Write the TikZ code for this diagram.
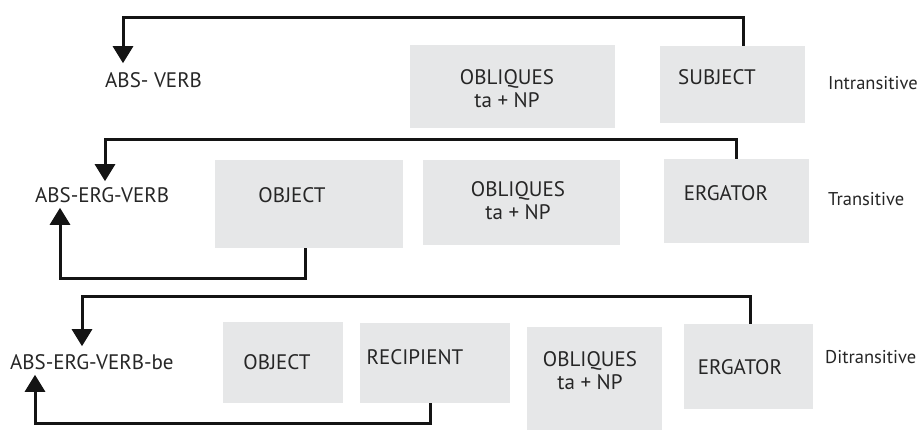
\documentclass[tikz,border=0pt]{standalone}
\usepackage{fontspec}
\setmainfont{PT Sans}
\usetikzlibrary{arrows.meta}
\definecolor{boxgray}{HTML}{E6E7E8}
\definecolor{inkc}{HTML}{141414}
\definecolor{txtc}{HTML}{262626}
\begin{document}
\begin{tikzpicture}[x=1pt,y=-1pt,
  box/.style={fill=boxgray,draw=none,inner sep=0pt},
  lab/.style={text=txtc,font=\fontsize{21}{23}\selectfont,inner sep=0pt,align=center},
  verb/.style={text=txtc,font=\fontsize{21}{22}\selectfont,inner sep=0pt,anchor=west},
  side/.style={text=txtc,font=\fontsize{18.5}{20}\selectfont,inner sep=0pt,anchor=west},
  arr/.style={draw=inkc,line width=3pt,-{Triangle[width=20pt,length=17pt]}}]
\useasboundingbox (0,0) rectangle (920,430);
% row 1
\node[box,minimum width=205pt,minimum height=83pt] (obl1) at (512.5,86.5) {};
\node[box,minimum width=145pt,minimum height=77pt] (subj) at (732.5,84.5) {};
\node[lab] (obl1t) at (507,89) {OBLIQUES\\ta + NP};
\node[lab] (subjt) at (717,77) {SUBJECT};
\node[side] (intr) at (828,83) {Intransitive};
\node[verb] (v1) at (105,80) {ABS- VERB};
% row 2
\node[box,minimum width=188pt,minimum height=88pt] (obj2) at (309,204) {};
\node[box,minimum width=197pt,minimum height=85pt] (obl2) at (521.5,202.5) {};
\node[box,minimum width=145pt,minimum height=84pt] (erg2) at (736.5,201) {};
\node[lab] (obj2t) at (292,195) {OBJECT};
\node[lab] (obl2t) at (518,201) {OBLIQUES\\ta + NP};
\node[lab] (erg2t) at (726,193) {ERGATOR};
\node[side] (tran) at (828,199) {Transitive};
\node[verb] (v2) at (35,195) {ABS-ERG-VERB};
% row 3
\node[box,minimum width=120pt,minimum height=81pt] (obj3) at (283,362.5) {};
\node[box,minimum width=150pt,minimum height=80pt] (rec3) at (435,363) {};
\node[box,minimum width=135pt,minimum height=103pt] (obl3) at (594.5,378.5) {};
\node[box,minimum width=129pt,minimum height=85pt] (erg3) at (748.5,366.5) {};
\node[lab] (obj3t) at (277,362) {OBJECT};
\node[lab] (rec3t) at (415,357) {RECIPIENT};
\node[lab] (obl3t) at (590,371) {OBLIQUES\\ta + NP};
\node[lab] (erg3t) at (740,367) {ERGATOR};
\node[side] (ditr) at (825,357) {Ditransitive};
\node[verb] (v3) at (10,362) {ABS-ERG-VERB-be};
% connectors
\draw[arr] ([xshift=10.5pt]subj.north) -- ++(0,-28) -| ([xshift=18pt,yshift=9pt]v1.north west);
\draw[arr] ([xshift=-0.5pt]erg2.north) -- ++(0,-19) -| ([xshift=70pt,yshift=6pt]v2.north west);
\draw[arr] ([xshift=-4pt]obj2.south) -- ++(0,30) -| ([xshift=25pt,yshift=-5pt]v2.south west);
\draw[arr] ([xshift=1.5pt]erg3.north) -- ++(0,-27) -| ([xshift=72pt,yshift=8pt]v3.north west);
\draw[arr] ([xshift=-5pt]rec3.south) -- ++(0,20) -| ([xshift=25pt,yshift=-5pt]v3.south west);
\end{tikzpicture}
\end{document}
